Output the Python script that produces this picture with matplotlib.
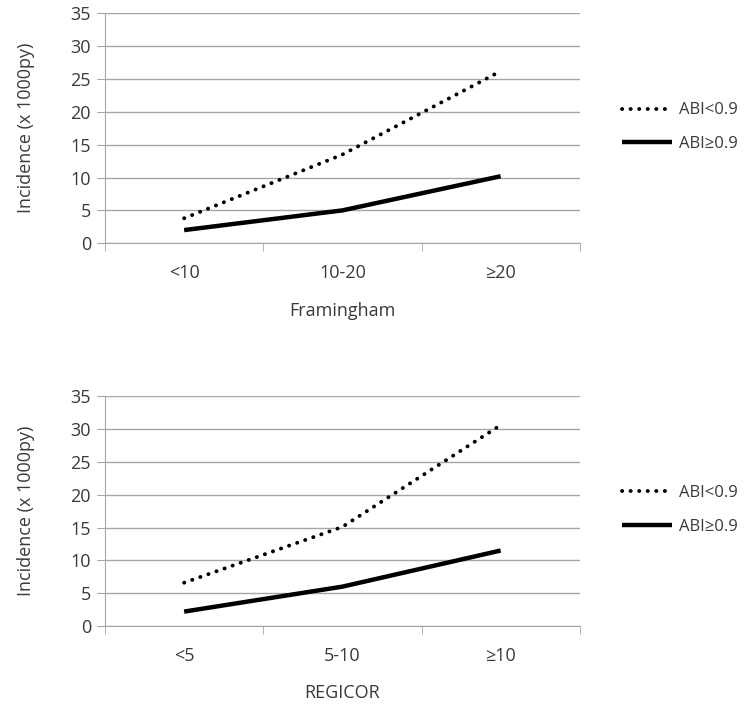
import matplotlib
matplotlib.use("Agg")
from matplotlib import pyplot as plt
import numpy as np

plt.rcParams['font.family'] = ['Open Sans', 'DejaVu Sans']

# Framingham panel
fram_cats = ["<10", "10-20", "≥20"]
fram_low = [3.8, 13.5, 26.2]    # ABI<0.9
fram_high = [2.0, 5.0, 10.2]    # ABI≥0.9

# REGICOR panel
regi_cats = ["<5", "5-10", "≥10"]
regi_low = [6.6, 15.1, 30.6]
regi_high = [2.2, 6.0, 11.5]

yticks = [0, 5, 10, 15, 20, 25, 30, 35]
txt = '#3a3a3a'
grid = '#a6a6a6'
fs = 13

fig = plt.figure(figsize=(7.5, 7.05), dpi=100)
ax1 = fig.add_axes([0.14, 0.655, 0.633, 0.326])
ax2 = fig.add_axes([0.14, 0.112, 0.633, 0.326])

panels = [(ax1, fram_cats, fram_low, fram_high, "Framingham"),
          (ax2, regi_cats, regi_low, regi_high, "REGICOR")]

for ax, cats, low, high, name in panels:
    x = np.arange(len(cats))
    ax.plot(x, low, color='black', linestyle=(0, (0.05, 2.15)), linewidth=2.8,
            dash_capstyle='round', label="ABI<0.9")
    ax.plot(x, high, color='black', linewidth=3.2, solid_capstyle='butt',
            label="ABI≥0.9")
    ax.set_xlim(-0.5, len(cats) - 0.5)
    ax.set_ylim(0, 35)
    ax.set_yticks(yticks)
    ax.yaxis.grid(True, color=grid, linewidth=1)
    ax.set_axisbelow(True)
    ax.set_xticks(x)
    ax.set_xticklabels(cats)
    ax.set_xticks(np.arange(-0.5, len(cats)), minor=True)
    ax.tick_params(axis='x', which='major', length=0, pad=15, labelsize=fs, labelcolor=txt)
    ax.tick_params(axis='x', which='minor', length=6, color=grid, direction='out')
    ax.tick_params(axis='y', length=6, color=grid, labelsize=fs, labelcolor=txt, pad=4)
    for s in ['top', 'right']:
        ax.spines[s].set_visible(False)
    for s in ['left', 'bottom']:
        ax.spines[s].set_color(grid)
    ax.set_ylabel("Incidence (x 1000py)", fontsize=fs, color=txt, labelpad=26)
    ax.set_xlabel(name, fontsize=fs, color=txt, labelpad=14)
    ax.legend(loc='center left', bbox_to_anchor=(1.076, 0.505), frameon=False,
              fontsize=12, handlelength=3.0, handletextpad=0.4, labelspacing=1.05,
              labelcolor=txt, borderaxespad=0)

fig.savefig("out.png", dpi=100)
